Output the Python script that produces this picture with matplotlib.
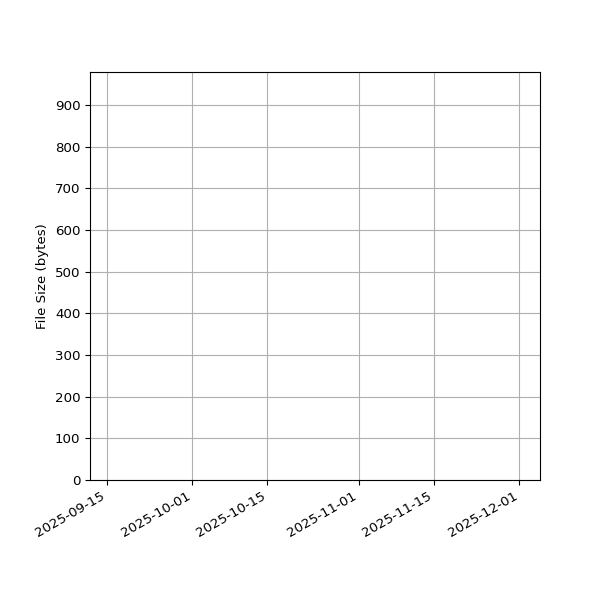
import matplotlib
matplotlib.use("Agg")
import matplotlib.pyplot as plt
import matplotlib.dates as mdates
import numpy as np
import datetime as dt

# Chart shows no visible data marks; only the axis ranges are known.
x_start = dt.datetime(2025, 9, 11, 22)
x_end = dt.datetime(2025, 12, 4, 20)
y_max = 979
ylabel = "File Size (bytes)"

plt.rcParams["font.size"] = 9.6

fig, ax = plt.subplots(figsize=(6, 6), dpi=100)
ax.set_xlim(x_start, x_end)
ax.set_ylim(0, y_max)
ax.set_yticks(np.arange(0, 901, 100))
ax.xaxis.set_major_locator(mdates.AutoDateLocator())
ax.xaxis.set_major_formatter(mdates.DateFormatter("%Y-%m-%d"))
ax.set_ylabel(ylabel)
ax.grid(True)
fig.autofmt_xdate()
fig.subplots_adjust(left=0.15, right=0.9, top=0.88, bottom=0.2)
fig.savefig("out.png", dpi=100)
